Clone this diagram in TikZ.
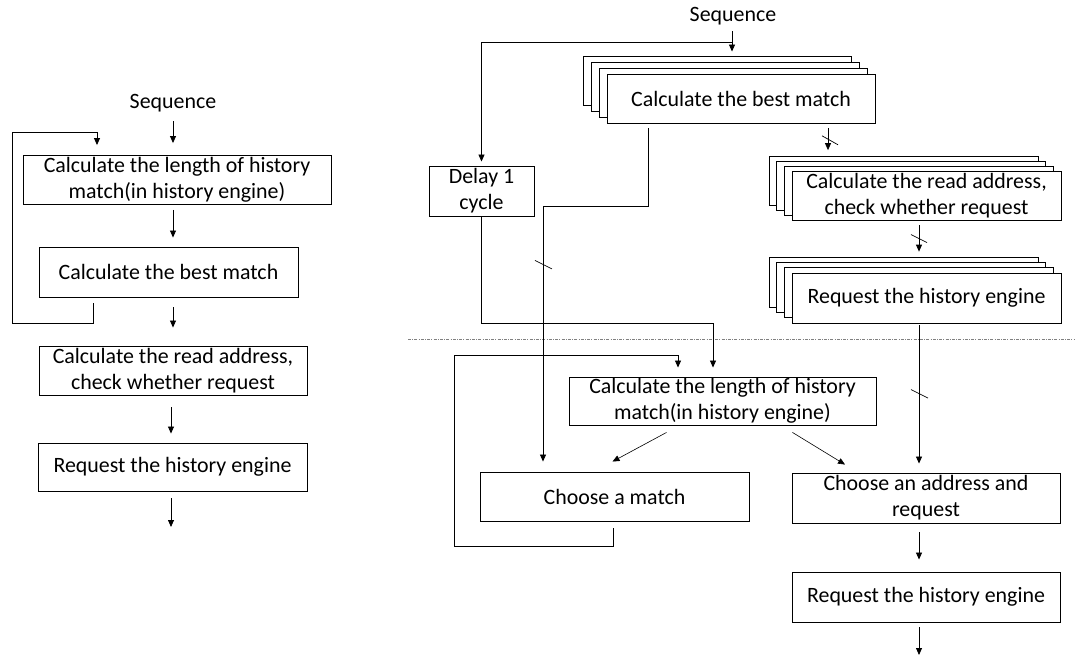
\documentclass[tikz,border=0pt]{standalone}
\usepackage{fontspec}
\setmainfont{Carlito}
\usetikzlibrary{calc,arrows.meta}

\begin{document}
\begin{tikzpicture}[x=1pt,y=-1pt,
  font=\fontsize{21.9}{26}\selectfont,
  box/.style={draw, fill=white, line width=0.9pt, align=center, inner sep=0pt,
              minimum height=49pt},
  lbl/.style={inner sep=0pt},
  wire/.style={line width=0.8pt},
  arr/.style={wire, -{Triangle[length=7pt,width=6pt]}},
  slashmark/.style={line width=0.7pt},
  stage/.style={draw=gray, line width=0.8pt, dash pattern=on 3pt off 1.2pt on 1pt off 1.2pt}
]
\useasboundingbox (0,0) rectangle (1075,655);

% ---------------- sequential flow (left) ----------------
\node[lbl] (seqL) at (173,103) {Sequence};
\node[box, minimum width=308pt] (lenL) at (177,180)
  {Calculate the length of history\\match(in history engine)};
\node[box, minimum width=259pt, minimum height=50pt] (bestL) at (168.5,272) {Calculate the best match};
\node[box, minimum width=268pt] (readL) at (173,370.5)
  {Calculate the read address,\\check whether request};
\node[box, minimum width=269pt, minimum height=48pt] (reqL) at (172.5,467) {Request the history engine};
\coordinate (outL) at (171,527);

\draw[arr, shorten <=9pt, shorten >=12pt] (seqL.south) -- (seqL |- lenL.north);
\draw[arr, shorten <=5pt, shorten >=9pt] (seqL |- lenL.south) -- (seqL |- bestL.north);
\draw[arr, shorten <=10pt, shorten >=18pt] (seqL |- bestL.south) -- (seqL |- readL.north);
\draw[arr, shorten <=12pt, shorten >=9pt] (outL |- readL.south) -- (outL |- reqL.north);
\draw[arr, shorten <=7pt] (outL |- reqL.south) -- (outL);
% loop back from the best match into the length calculation
\draw[arr, shorten <=6pt, shorten >=10pt]
  ($(bestL.south)+(-75,0)$) -- ++(0,26) -| (12,132) -| ($(lenL.north)+(-80,0)$);

% ---------------- pipelined flow (right) ----------------
\node[lbl] (seqR) at (733,16) {Sequence};

% stacked "best match" units
\foreach \k in {3,2,1} {
  \node[box, minimum width=268pt] (bm\k) at ({741-7.7*\k},{98.5-6*\k}) {};
}
\node[box, minimum width=268pt] (bm) at (741,98.5) {Calculate the best match};

\node[box, minimum width=105pt, minimum height=50pt] (delay) at (481.5,191) {Delay 1\\cycle};

% stacked "read address" units
\foreach \k in {3,2,1} {
  \node[box, minimum width=269pt] (ra\k) at ({926.5-7.6*\k},{195.5-4.8*\k}) {};
}
\node[box, minimum width=269pt] (ra) at (926.5,195.5)
  {Calculate the read address,\\check whether request};

% stacked "request" units
\foreach \k in {3,2,1} {
  \node[box, minimum width=269pt, minimum height=50pt] (rq\k) at ({926.5-7.6*\k},{298-5.3*\k}) {};
}
\node[box, minimum width=269pt, minimum height=50pt] (rq) at (926.5,298) {Request the history engine};

% pipeline stage boundary
\coordinate (stL) at (408,339);
\coordinate (stR) at (1074,339);
\draw[stage] (stL) -- (stR);

\node[box, minimum width=307pt, minimum height=48pt] (lenR) at (722.5,401)
  {Calculate the length of history\\match(in history engine)};
\node[box, minimum width=269pt] (cm) at (614.5,496.5) {Choose a match};
\node[box, minimum width=268pt, minimum height=50pt] (ca) at (926,498) {Choose an address and\\request};
\node[box, minimum width=268pt, minimum height=50pt] (rqR) at (926,597) {Request the history engine};
\coordinate (outR) at (919,655);

% sequence input: into the best-match units and through the delay
\coordinate (jn) at (732,42);
\draw[arr, shorten <=6pt, shorten >=4pt] (seqR.south -| jn) -- (jn |- bm3.north);
\draw[arr, shorten >=4pt] (jn) -| (delay.north);

% best match down to choosing a match
\coordinate (b1) at (648,206);
\coordinate (b2) at (543,206);
\draw[arr, shorten <=5pt, shorten >=10pt] (b1 |- bm.south) -- (b1) -- (b2)
  -- coordinate[pos=0.22] (s4) (b2 |- cm.north);
\draw[slashmark] ($(s4)+(-8,-4)$) -- ($(s4)+(9,4.5)$);

% delayed sequence into the length calculation
\coordinate (d1) at (713,323);
\draw[arr, shorten >=9pt] (delay.south) |- (d1) -- (d1 |- lenR.north);

% choose-a-match feedback into the length calculation
\coordinate (c1) at (613,521);
\coordinate (f1) at (454,546);
\coordinate (f2) at (678,355);
\draw[arr, shorten <=7pt, shorten >=9pt]
  (c1) |- (f1) |- (f2) -- (f2 |- lenR.north);

% length results fan out to both choosers
\draw[arr, line width=0.6pt] ($(lenR.south)+(-56,7)$) -- ($(cm.north)+(-2,-10)$);
\draw[arr, line width=0.6pt] ($(lenR.south)+(70,7)$) -- ($(ca.north)+(-81,-8)$);

% parallel buses between stacked units
\coordinate (p1) at (828,0);
\draw[arr, shorten <=5pt, shorten >=6pt] (p1 |- bm.south) -- coordinate[pos=0.5] (s1) (p1 |- ra3.north);
\draw[slashmark] ($(s1)+(-6,-4)$) -- ($(s1)+(10,5)$);

\draw[arr, shorten <=5pt, shorten >=5pt] (outR |- ra.south) -- coordinate[pos=0.5] (s2) (outR |- rq3.north);
\draw[slashmark] ($(s2)+(-8,-4)$) -- ($(s2)+(8,4)$);

\draw[arr, shorten <=2pt, shorten >=9pt] (outR |- rq.south) -- coordinate[pos=0.47] (s3) (outR |- ca.north);
\draw[slashmark] ($(s3)+(-8,-4)$) -- ($(s3)+(9,4.5)$);

\draw[arr, shorten <=9pt, shorten >=12pt] (outR |- ca.south) -- (outR |- rqR.north);
\draw[arr, shorten <=5pt] (outR |- rqR.south) -- (outR);

\end{tikzpicture}
\end{document}
